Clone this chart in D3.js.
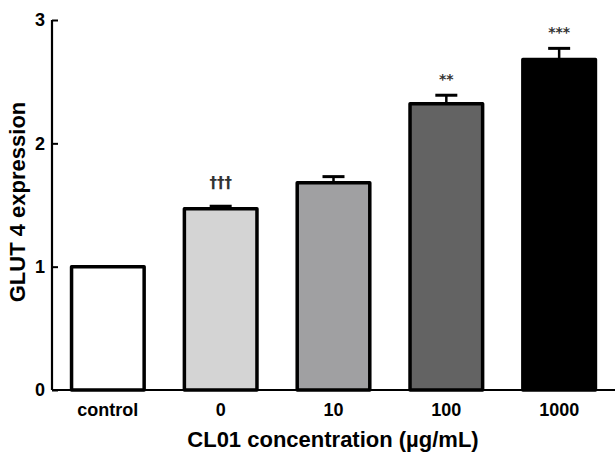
<!DOCTYPE html>
<html>
<head>
<meta charset="utf-8">
<script src="https://cdn.jsdelivr.net/npm/d3@7"></script>
<style>
  body { margin: 0; background: #fff; }
  text { font-family: "Liberation Sans", Arial, sans-serif; font-weight: bold; }
</style>
</head>
<body>
<svg id="chart" width="615" height="453"></svg>
<script>
// Data
const categories = ['control', '0', '10', '100', '1000'];
const means = [1.0, 1.47, 1.68, 2.32, 2.68];
const errors = [0, 0.02, 0.05, 0.07, 0.09];
const fills = ['#ffffff', '#d4d4d4', '#a0a0a2', '#636363', '#000000'];
const marks = ['', '†††', '', '**', '***'];
const yTicks = [0, 1, 2, 3];

const svg = d3.select('#chart');

// Plot area
const margin = { top: 20, right: 0, bottom: 63, left: 52 };
const width = 615 - margin.left - margin.right;
const height = 453 - margin.top - margin.bottom;

const g = svg.append('g')
  .attr('transform', `translate(${margin.left},${margin.top})`);

const x = d3.scaleBand()
  .domain(categories)
  .range([0, width])
  .paddingInner(0.33)
  .paddingOuter(0.16);

const y = d3.scaleLinear()
  .domain([0, 3])
  .range([height, 0]);

const data = categories.map((c, i) => ({
  cat: c, mean: means[i], err: errors[i], fill: fills[i], mark: marks[i]
}));

// Bars
g.selectAll('rect.bar')
  .data(data)
  .enter().append('rect')
  .attr('class', 'bar')
  .attr('x', d => x(d.cat) + 1.5)
  .attr('y', d => y(d.mean))
  .attr('width', x.bandwidth() - 3)
  .attr('height', d => y(0) - y(d.mean))
  .attr('fill', d => d.fill)
  .attr('stroke', '#000')
  .attr('stroke-width', 3.5)
  .attr('stroke-linejoin', 'round');

// Error bars (upper only)
const capW = 22;
const errG = g.selectAll('g.err')
  .data(data.filter(d => d.err > 0))
  .enter().append('g')
  .attr('class', 'err');

errG.append('line')
  .attr('x1', d => x(d.cat) + x.bandwidth() / 2)
  .attr('x2', d => x(d.cat) + x.bandwidth() / 2)
  .attr('y1', d => y(d.mean))
  .attr('y2', d => y(d.mean + d.err))
  .attr('stroke', '#000')
  .attr('stroke-width', 2.5);

errG.append('line')
  .attr('x1', d => x(d.cat) + x.bandwidth() / 2 - capW / 2)
  .attr('x2', d => x(d.cat) + x.bandwidth() / 2 + capW / 2)
  .attr('y1', d => y(d.mean + d.err))
  .attr('y2', d => y(d.mean + d.err))
  .attr('stroke', '#000')
  .attr('stroke-width', 3);

// Significance marks
g.selectAll('text.mark')
  .data(data.filter(d => d.mark))
  .enter().append('text')
  .attr('class', 'mark')
  .attr('x', d => x(d.cat) + x.bandwidth() / 2)
  .attr('y', d => y(d.mean + d.err) - (d.mark === '†††' ? 18 : 11))
  .attr('text-anchor', 'middle')
  .attr('fill', '#333')
  .style('font-family', '"DejaVu Sans", sans-serif')
  .style('font-size', d => d.mark === '†††' ? '15px' : '14px')
  .style('font-weight', 'bold')
  .text(d => d.mark);

// Axes
const yAxis = g.append('g')
  .call(d3.axisLeft(y).tickValues(yTicks).tickSize(-6).tickPadding(7).tickFormat(d3.format('d')));
yAxis.select('.domain').attr('stroke-width', 2.2).attr('d', `M0,0V${height}`);
yAxis.selectAll('.tick line').attr('stroke-width', 2);
yAxis.selectAll('.tick text').style('font-size', '18px').attr('fill', '#000')
  .attr('x', -7);

const xAxis = g.append('g')
  .attr('transform', `translate(0,${height})`)
  .call(d3.axisBottom(x).tickSize(0).tickPadding(13));
xAxis.select('.domain').attr('stroke-width', 2.2).attr('d', `M0,0H${width}`);
xAxis.selectAll('.tick text').style('font-size', '18px').attr('fill', '#000');

// Axis titles
svg.append('text')
  .attr('x', 333)
  .attr('y', 447)
  .attr('text-anchor', 'middle')
  .style('font-size', '22px')
  .text('CL01 concentration (µg/mL)');

svg.append('text')
  .attr('transform', 'translate(25,202) rotate(-90)')
  .attr('text-anchor', 'middle')
  .style('font-size', '22px')
  .text('GLUT 4 expression');
</script>
</body>
</html>
